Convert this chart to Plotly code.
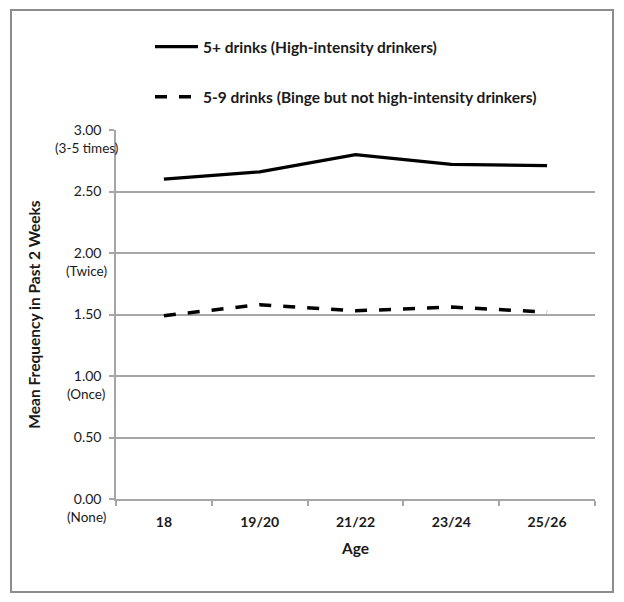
import plotly.graph_objects as go

ages = ["18", "19/20", "21/22", "23/24", "25/26"]
high_intensity = [2.60, 2.66, 2.80, 2.72, 2.71]
binge_not_high = [1.49, 1.58, 1.53, 1.56, 1.52]
y_tick_vals = [0, 0.5, 1.0, 1.5, 2.0, 2.5, 3.0]
y_tick_text = ["0.00", "0.50", "1.00", "1.50", "2.00", "2.50", "3.00"]
y_sub_vals = [3.0, 2.0, 1.0, 0.0]
y_sub_text = ["(3-5 times)", "(Twice)", "(Once)", "(None)"]

FONT = "Lato"
GRID = "#a6a6a6"
OFF = 8  # page body margin

fig = go.Figure()
fig.add_trace(go.Scatter(
    x=ages, y=high_intensity, mode="lines",
    name="5+ drinks (High-intensity drinkers)",
    line=dict(color="black", width=3.2),
    legendgroup="a",
))
fig.add_trace(go.Scatter(
    x=ages, y=binge_not_high, mode="lines",
    name="5-9 drinks (Binge but not high-intensity drinkers)",
    line=dict(color="black", width=3.5, dash="12px,12px"),
    legendgroup="b",
))

W, H = 624 - 2 * OFF, 602 - 2 * OFF
L = 116 - OFF
T = 130 - OFF
R = W - (595 - OFF)
B = H - (499 - OFF)
pw, ph = W - L - R, H - T - B

def px2x(px):
    return (px - OFF - L) / pw

def py2y(py):
    return (H - B - (py - OFF)) / ph

for v, t in zip(y_sub_vals, y_sub_text):
    fig.add_annotation(
        x=px2x(86), xref="paper", y=v, yref="y",
        text=t, showarrow=False, xanchor="center", yanchor="top",
        yshift=-8, font=dict(family=FONT, size=13.5, color="#1a1a1a"),
    )

fig.add_shape(
    type="rect", xref="paper", yref="paper",
    x0=px2x(11), x1=px2x(613), y0=py2y(592), y1=py2y(10),
    line=dict(color="#8c8c8c", width=2), fillcolor="rgba(0,0,0,0)",
    layer="below",
)

fig.update_layout(
    width=W, height=H,
    margin=dict(l=L, r=R, t=T, b=B),
    paper_bgcolor="white", plot_bgcolor="white",
    font=dict(family=FONT, size=14, color="#1a1a1a"),
    showlegend=True,
    legend=dict(
        x=px2x(150), y=py2y(30), xanchor="left", yanchor="top",
        orientation="v", tracegroupgap=27,
        font=dict(family=FONT, size=15.5, color="#1a1a1a", weight="bold"),
        bgcolor="rgba(0,0,0,0)", itemwidth=43,
    ),
    xaxis=dict(
        type="category", range=[-0.5, 4.5],
        showgrid=False, showline=True, linecolor=GRID, linewidth=1.5,
        ticks="outside", tickson="boundaries", ticklen=5, tickcolor=GRID, tickwidth=1.5,
        ticklabelstandoff=9,
        tickfont=dict(family=FONT, size=14, weight="bold"),
        title=dict(text="Age", font=dict(family=FONT, size=15.5, weight="bold"), standoff=15),
        automargin=False, fixedrange=True,
    ),
    yaxis=dict(
        range=[0, 3.0], tickvals=y_tick_vals, ticktext=y_tick_text,
        showgrid=True, gridcolor=GRID, gridwidth=1.5,
        showline=True, linecolor=GRID, linewidth=1.5, zeroline=False,
        ticks="outside", ticklen=5, tickcolor=GRID, tickwidth=1.5,
        ticklabelstandoff=5,
        tickfont=dict(family=FONT, size=14),
        title=dict(text="Mean Frequency in Past 2 Weeks",
                   font=dict(family=FONT, size=15.5, weight="bold"), standoff=29),
        automargin=False,
    ),
)

fig.write_html("out.html")
